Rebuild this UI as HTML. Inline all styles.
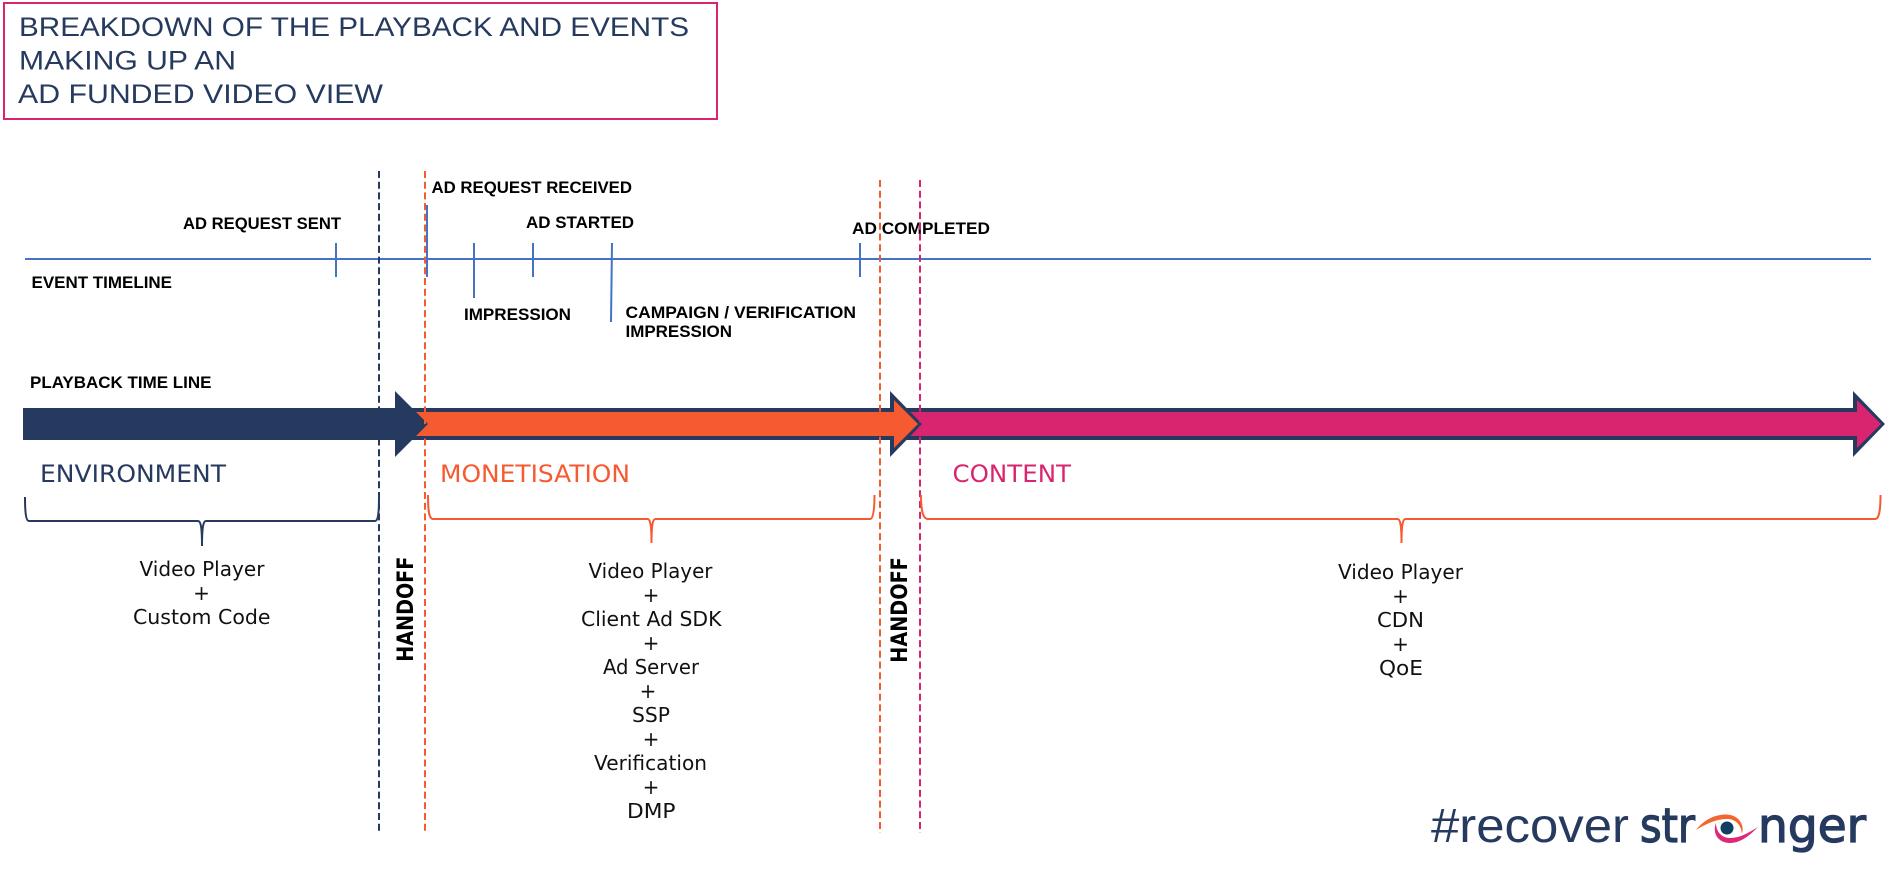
<!DOCTYPE html>
<html>
<head>
<meta charset="utf-8">
<style>
html,body{margin:0;padding:0;background:#fff;width:1898px;height:884px;overflow:hidden}
svg{display:block}
.t{font-family:"Liberation Sans",sans-serif;font-size:27px;fill:#253a5e}
.b{font-family:"Liberation Sans",sans-serif;font-weight:bold;font-size:16.5px;fill:#000}
.s{font-family:"DejaVu Sans",sans-serif;font-size:24px}
.k{font-family:"DejaVu Sans",sans-serif;font-size:20px;fill:#111}
.h{font-family:"DejaVu Sans",sans-serif;font-weight:bold;font-size:22px;fill:#000}
.l{font-family:"Liberation Sans",sans-serif;font-size:48px;fill:#253a5e}
.m{font-family:"DejaVu Sans",sans-serif;font-size:47px;fill:#253a5e;stroke:#253a5e;stroke-width:1.3}
</style>
</head>
<body>
<svg width="1898" height="884" viewBox="0 0 1898 884" xmlns="http://www.w3.org/2000/svg">
<rect x="4" y="3" width="713" height="116" fill="#fff" stroke="#d9246f" stroke-width="2"/>
<text class="t" x="19" y="36" textLength="670" lengthAdjust="spacingAndGlyphs">BREAKDOWN OF THE PLAYBACK AND EVENTS</text>
<text class="t" x="19" y="69.5" textLength="217" lengthAdjust="spacingAndGlyphs">MAKING UP AN</text>
<text class="t" x="18" y="103" textLength="365" lengthAdjust="spacingAndGlyphs">AD FUNDED VIDEO VIEW</text>

<!-- event timeline -->
<line x1="25" y1="259" x2="1871" y2="259" stroke="#4472c4" stroke-width="2"/>
<g stroke="#4472c4" stroke-width="2" fill="none">
<line x1="336" y1="243" x2="336" y2="277"/>
<line x1="427" y1="205" x2="427" y2="277"/>
<line x1="474" y1="243" x2="474" y2="298"/>
<line x1="533" y1="243" x2="533" y2="277"/>
<line x1="612" y1="243" x2="611" y2="322"/>
<line x1="860" y1="243" x2="860" y2="277"/>
</g>
<text class="b" x="431.5" y="193" textLength="200.5" lengthAdjust="spacingAndGlyphs">AD REQUEST RECEIVED</text>
<text class="b" x="183" y="229" textLength="158" lengthAdjust="spacingAndGlyphs">AD REQUEST SENT</text>
<text class="b" x="526" y="228" textLength="108" lengthAdjust="spacingAndGlyphs">AD STARTED</text>
<text class="b" x="852" y="234" textLength="138" lengthAdjust="spacingAndGlyphs">AD COMPLETED</text>
<text class="b" x="31.5" y="288" textLength="140.5" lengthAdjust="spacingAndGlyphs">EVENT TIMELINE</text>
<text class="b" x="464" y="320" textLength="107" lengthAdjust="spacingAndGlyphs">IMPRESSION</text>
<text class="b" x="625.5" y="318" textLength="230.5" lengthAdjust="spacingAndGlyphs">CAMPAIGN / VERIFICATION</text>
<text class="b" x="625.5" y="337" textLength="106.5" lengthAdjust="spacingAndGlyphs">IMPRESSION</text>
<text class="b" x="30" y="388" textLength="181.5" lengthAdjust="spacingAndGlyphs">PLAYBACK TIME LINE</text>

<!-- arrows -->
<polygon points="880,408 1853,408 1853,391 1885,424 1853,457 1853,440 880,440" fill="#253a5e"/>
<polygon points="880,412 1857,412 1857,400 1881,424 1857,448 1857,436 880,436" fill="#d9246f"/>
<polygon points="400,408 890,408 890,391 922,424 890,457 890,440 400,440" fill="#253a5e"/>
<polygon points="400,412 894,412 894,400 918,424 894,448 894,436 400,436" fill="#f55a30"/>
<polygon points="23,408 395,408 395,391 428,424 395,457 395,440 23,440" fill="#253a5e"/>

<!-- dashed lines -->
<g fill="none" stroke-width="2" stroke-dasharray="7 3.7">
<line x1="379" y1="171" x2="379" y2="833" stroke="#253a5e"/>
<line x1="425" y1="171" x2="425" y2="833" stroke="#f55a30"/>
<line x1="880" y1="180" x2="880" y2="833" stroke="#f55a30"/>
<line x1="920" y1="180" x2="920" y2="833" stroke="#d9246f"/>
</g>

<text class="s" x="40" y="482" fill="#253a5e" textLength="186" lengthAdjust="spacingAndGlyphs">ENVIRONMENT</text>
<text class="s" x="440" y="482" fill="#f55a30" textLength="190" lengthAdjust="spacingAndGlyphs">MONETISATION</text>
<text class="s" x="952.5" y="482" fill="#d9246f" textLength="118.5" lengthAdjust="spacingAndGlyphs">CONTENT</text>

<!-- braces -->
<path d="M25,497 C25,513 26,521 29,521 L198,521 C201,521 202,528 202,546 C202,528 203,521 206,521 L375,521 C378,521 379,513 379,497" fill="none" stroke="#253a5e" stroke-width="2"/>
<path d="M428,495 C428,511 429,519 433,519 L647.5,519 C650.5,519 651.5,526 651.5,543 C651.5,526 652.5,519 655.5,519 L870,519 C873,519 874.5,511 874.5,495" fill="none" stroke="#f55a30" stroke-width="2"/>
<path d="M921,495 C921,511 923,519 928,519 L1397.5,519 C1400.5,519 1401.5,526 1401.5,543 C1401.5,526 1402.5,519 1405.5,519 L1875,519 C1879,519 1880.5,511 1880.5,495" fill="none" stroke="#f55a30" stroke-width="2"/>

<!-- stacks -->
<text class="k" x="139.5" y="576" textLength="125" lengthAdjust="spacingAndGlyphs">Video Player</text>
<text class="k" x="201.5" y="600" text-anchor="middle">+</text>
<text class="k" x="133" y="624" textLength="137.5" lengthAdjust="spacingAndGlyphs">Custom Code</text>

<text class="k" x="588.5" y="578" textLength="124" lengthAdjust="spacingAndGlyphs">Video Player</text>
<text class="k" x="651" y="602" text-anchor="middle">+</text>
<text class="k" x="581" y="626" textLength="140.5" lengthAdjust="spacingAndGlyphs">Client Ad SDK</text>
<text class="k" x="651" y="650" text-anchor="middle">+</text>
<text class="k" x="603" y="674" textLength="96" lengthAdjust="spacingAndGlyphs">Ad Server</text>
<text class="k" x="648" y="698" text-anchor="middle">+</text>
<text class="k" x="632" y="722" textLength="38" lengthAdjust="spacingAndGlyphs">SSP</text>
<text class="k" x="651" y="746" text-anchor="middle">+</text>
<text class="k" x="594" y="770" textLength="113" lengthAdjust="spacingAndGlyphs">Verification</text>
<text class="k" x="651" y="794" text-anchor="middle">+</text>
<text class="k" x="627" y="818" textLength="48.5" lengthAdjust="spacingAndGlyphs">DMP</text>

<text class="k" x="1338" y="579" textLength="125" lengthAdjust="spacingAndGlyphs">Video Player</text>
<text class="k" x="1400.5" y="603" text-anchor="middle">+</text>
<text class="k" x="1377" y="627" textLength="47" lengthAdjust="spacingAndGlyphs">CDN</text>
<text class="k" x="1400.5" y="651" text-anchor="middle">+</text>
<text class="k" x="1379" y="675" textLength="44" lengthAdjust="spacingAndGlyphs">QoE</text>

<!-- handoff -->
<text class="h" transform="translate(413,661.7) rotate(-90)" textLength="105" lengthAdjust="spacingAndGlyphs">HANDOFF</text>
<text class="h" transform="translate(907,662.7) rotate(-90)" textLength="105.5" lengthAdjust="spacingAndGlyphs">HANDOFF</text>

<!-- logo -->
<text class="l" x="1431" y="842" textLength="198" lengthAdjust="spacingAndGlyphs">#recover</text>
<text class="m" x="1640" y="842" textLength="55" lengthAdjust="spacingAndGlyphs">str</text>
<text class="m" x="1758" y="842" textLength="108" lengthAdjust="spacingAndGlyphs">nger</text>
<path d="M1696,830 C1705,818 1718,814 1727,814.5 C1738,815 1745,824 1742,834 C1741,824 1735,819 1727,819 C1716,819 1706,824 1696,830 Z" fill="#f4662f"/>
<path d="M1716,823 C1712,833 1718,843 1730,843 C1741,843 1750,835 1758,827 C1748,833 1740,838 1730,838 C1722,838 1716,832 1716,823 Z" fill="#dc2a79"/>
<circle cx="1727" cy="828" r="6.5" fill="#0f3f63"/>
</svg>
</body>
</html>
